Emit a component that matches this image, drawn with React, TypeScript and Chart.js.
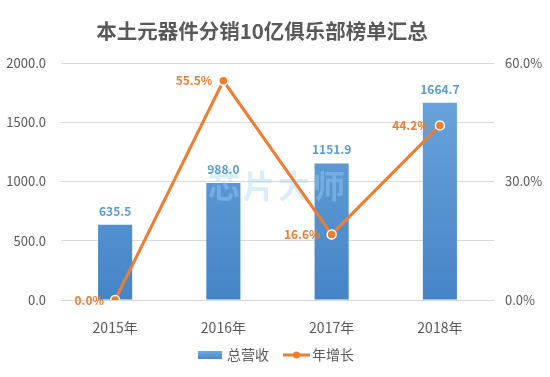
import React, { useEffect, useRef } from "react";
import { Chart, registerables } from "chart.js";

Chart.register(...registerables);

const categories = ["2015年", "2016年", "2017年", "2018年"];
const revenue = [635.5, 988.0, 1151.9, 1664.7];
const growth = [0.0, 55.5, 16.6, 44.2];
const leftTicks = [0, 500, 1000, 1500, 2000];
const rightTicks = [0, 30, 60];
const title = "本土元器件分销10亿俱乐部榜单汇总";
const seriesNames = ["总营收", "年增长"];
const watermark = ["芯", "片", "大", "师"];

const FONT = "'Microsoft YaHei', 'Noto Sans CJK SC', sans-serif";
const BLUE = "#5B9BD5";
const ORANGE = "#ED7D31";
const TEXT = "#595959";

export default function App() {
  const ref = useRef<HTMLCanvasElement | null>(null);

  useEffect(() => {
    document.body.style.margin = "0";
    const canvas = ref.current!;
    const ctx = canvas.getContext("2d")!;

    const overlay = {
      id: "overlay",
      afterDatasetDraw(chart: any, args: any) {
        if (args.index !== 0) return;
        const c = chart.ctx;
        c.save();
        c.font = `bold 32px ${FONT}`;
        c.fillStyle = "rgba(160,210,245,0.4)";
        c.textAlign = "center";
        c.textBaseline = "middle";
        watermark.forEach((ch, i) => {
          c.fillText(ch, 224 + i * 35, 186);
        });
        c.restore();
      },
      afterDraw(chart: any) {
        const c = chart.ctx;
        c.save();
        // title
        c.font = `bold 20.5px ${FONT}`;
        c.fillStyle = TEXT;
        c.textAlign = "center";
        c.textBaseline = "middle";
        c.fillText(title, 262, 31);

        // bar labels
        const barMeta = chart.getDatasetMeta(0);
        c.font = `bold 12px ${FONT}`;
        c.fillStyle = BLUE;
        c.textBaseline = "alphabetic";
        barMeta.data.forEach((el: any, i: number) => {
          c.fillText(revenue[i].toFixed(1), el.x, el.y - 9);
        });

        // line labels
        const lineMeta = chart.getDatasetMeta(1);
        c.font = `bold 12px ${FONT}`;
        c.fillStyle = ORANGE;
        c.textAlign = "right";
        c.textBaseline = "middle";
        lineMeta.data.forEach((el: any, i: number) => {
          c.fillText(growth[i].toFixed(1) + "%", el.x - 11, el.y);
        });

        // legend
        const ly = 355;
        const grad = c.createLinearGradient(0, ly - 4, 0, ly + 4);
        grad.addColorStop(0, "#6EA8DE");
        grad.addColorStop(1, "#4A88CA");
        c.fillStyle = grad;
        c.fillRect(198, ly - 4, 24, 8);
        c.font = `14px ${FONT}`;
        c.fillStyle = TEXT;
        c.textAlign = "left";
        c.textBaseline = "middle";
        c.fillText(seriesNames[0], 227, ly);
        c.strokeStyle = ORANGE;
        c.lineWidth = 3;
        c.beginPath();
        c.moveTo(283, ly);
        c.lineTo(310, ly);
        c.stroke();
        c.beginPath();
        c.arc(296.5, ly, 3.5, 0, Math.PI * 2);
        c.fillStyle = ORANGE;
        c.fill();
        c.fillStyle = TEXT;
        c.fillText(seriesNames[1], 312, ly);
        c.restore();
      },
    };

    const chart = new Chart(ctx, {
      data: {
        labels: categories,
        datasets: [
          {
            type: "bar",
            label: seriesNames[0],
            data: revenue,
            yAxisID: "y",
            order: 2,
            categoryPercentage: 1,
            barPercentage: 0.315,
            backgroundColor: (context: any) => {
              const area = context.chart.chartArea;
              if (!area) return BLUE;
              const g = context.chart.ctx.createLinearGradient(0, area.top, 0, area.bottom);
              g.addColorStop(0, "#6EA8DE");
              g.addColorStop(1, "#4584C7");
              return g;
            },
          },
          {
            type: "line",
            label: seriesNames[1],
            data: growth,
            yAxisID: "y1",
            order: 1,
            borderColor: ORANGE,
            borderWidth: 3,
            pointRadius: 4.5,
            pointBackgroundColor: ORANGE,
            pointBorderColor: "#ffffff",
            pointBorderWidth: 1.5,
            tension: 0,
          },
        ],
      },
      options: {
        animation: false,
        responsive: false,
        devicePixelRatio: 1,
        layout: { padding: { top: 63, left: 0, right: 0, bottom: 0 } },
        plugins: {
          legend: { display: false },
          title: { display: false },
          tooltip: { enabled: false },
        },
        scales: {
          x: {
            grid: { display: false },
            border: { display: false },
            ticks: { color: TEXT, font: { family: FONT, size: 14 }, padding: 11 },
            afterFit: (s: any) => {
              s.height = 77;
            },
          },
          y: {
            position: "left",
            min: 0,
            max: 2000,
            afterBuildTicks: (s: any) => {
              s.ticks = leftTicks.map((v) => ({ value: v }));
            },
            grid: { color: "#D9D9D9", drawTicks: false },
            border: { display: false },
            ticks: {
              color: TEXT,
              font: { family: FONT, size: 13 },
              padding: 15,
              callback: (v: any) => Number(v).toFixed(1),
            },
            afterFit: (s: any) => {
              s.width = 61;
            },
          },
          y1: {
            position: "right",
            min: 0,
            max: 60,
            afterBuildTicks: (s: any) => {
              s.ticks = rightTicks.map((v) => ({ value: v }));
            },
            grid: { display: false, drawTicks: false },
            border: { display: false },
            ticks: {
              color: TEXT,
              font: { family: FONT, size: 13 },
              padding: 11,
              callback: (v: any) => Number(v).toFixed(1) + "%",
            },
            afterFit: (s: any) => {
              s.width = 56;
            },
          },
        },
      },
      plugins: [overlay],
    } as any);

    return () => chart.destroy();
  }, []);

  return (
    <div style={{ width: 550, height: 377, background: "#fff" }}>
      <canvas ref={ref} width={550} height={377} style={{ display: "block" }} />
    </div>
  );
}
